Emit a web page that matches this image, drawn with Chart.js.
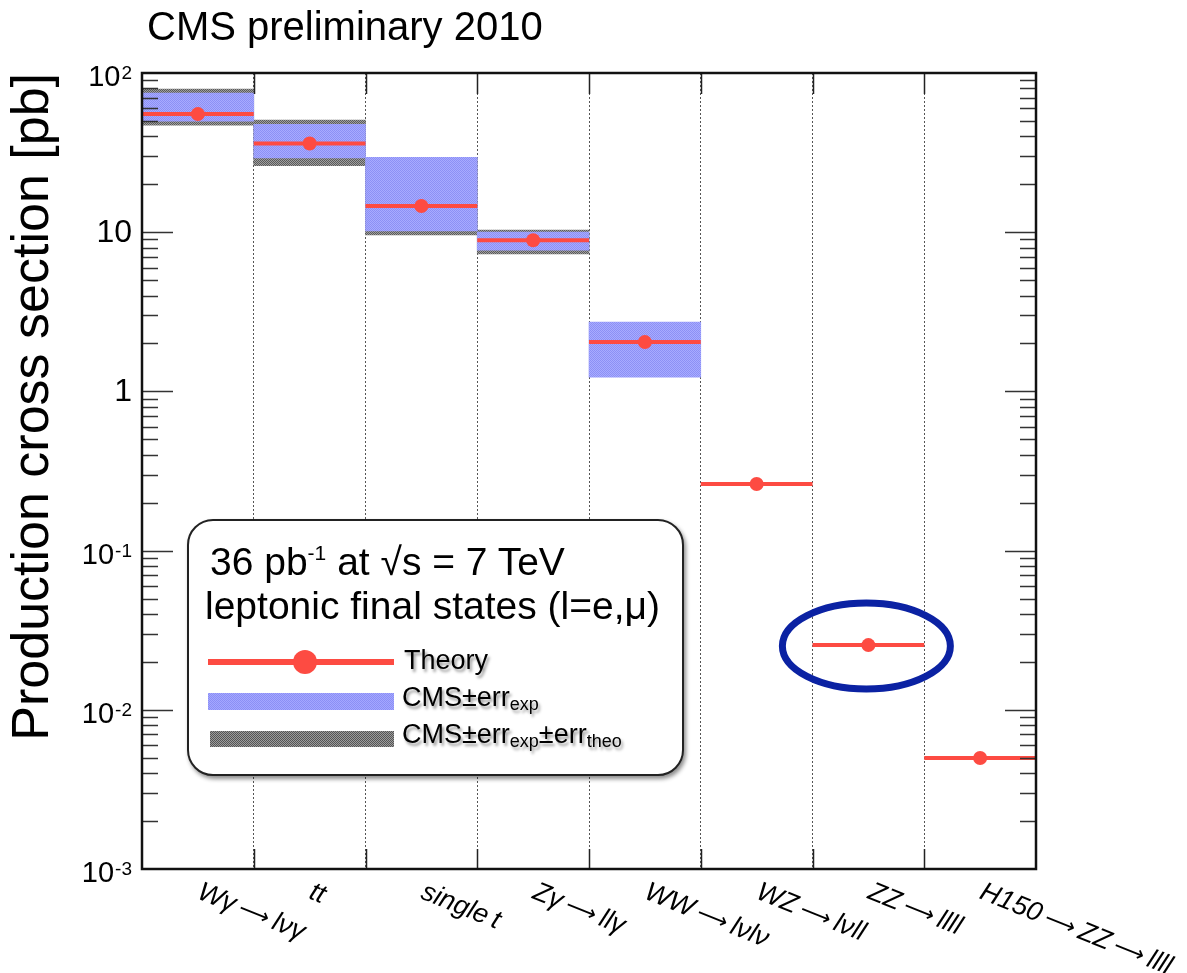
<!DOCTYPE html>
<html>
<head>
<meta charset="utf-8">
<script src="https://cdn.jsdelivr.net/npm/chart.js@4/dist/chart.umd.min.js"></script>
<style>
  body { margin: 0; background: #fff; font-family: 'Liberation Sans', Arial, Helvetica, sans-serif; }
  #wrap { position: relative; width: 1187px; height: 973px; overflow: hidden; }
  #cms { position: absolute; left: 147px; top: 4px; font-size: 40px; color: #000; white-space: nowrap; }
  #legend { position: absolute; left: 187px; top: 519px; width: 493px; height: 253px; border: 2px solid #222;
            border-radius: 26px; background: #fff; box-shadow: 2px 3px 4px rgba(0,0,0,0.45); }
  #legend .t { position: absolute; white-space: nowrap; color: #000; font-size: 39px; }
  #legend .e { position: absolute; white-space: nowrap; color: #000; font-size: 27px; text-shadow: 2px 3px 3px rgba(0,0,0,0.4); }
  #legend sub { font-size: 18px; vertical-align: -4px; }
  #legend sup { font-size: 21px; vertical-align: 15px; line-height: 0; }
  .sw { position: absolute; }
  .blue { background-color: #a4a7ff;
          background-image: conic-gradient(#8b8ff5 25%, transparent 0 50%, #8b8ff5 0 75%, transparent 0);
          background-size: 2px 2px; }
  .grey { background-color: #9c9c9c;
          background-image: conic-gradient(#555 25%, transparent 0 50%, #555 0 75%, transparent 0);
          background-size: 2px 2px; }
</style>
</head>
<body>
<div id="wrap">
  <canvas id="myChart" width="1187" height="973"></canvas>
  <div id="cms">CMS preliminary 2010</div>
  <div id="legend">
    <div class="t" style="left:21px; top:19px;">36 pb<sup>-1</sup> at √s = 7 TeV</div>
    <div class="t" style="left:16px; top:63px;">leptonic final states (l=e,μ)</div>
    <div class="sw" style="left:19px; top:138px; width:186px; height:6px; background:#fd4b42;"></div>
    <div class="sw" style="left:104px; top:129px; width:24px; height:24px; border-radius:12px; background:#fd4b42;"></div>
    <div class="e" style="left:215px; top:124px;">Theory</div>
    <div class="sw blue" style="left:19px; top:172px; width:186px; height:17px;"></div>
    <div class="e" style="left:213px; top:161px;">CMS±err<sub>exp</sub></div>
    <div class="sw grey" style="left:21px; top:210px; width:184px; height:16px;"></div>
    <div class="e" style="left:213px; top:198px;">CMS±err<sub>exp</sub>±err<sub>theo</sub></div>
  </div>
</div>
<script>
// ---------------------------------------------------------------
// DATA
const processes = ['Wγ → lνγ', 'tt', 'single t', 'Zγ → llγ', 'WW → lνlν', 'WZ → lνll', 'ZZ → llll', 'H150 → ZZ → llll'];
const theory   = [55.2, 36.1, 14.6, 8.9, 2.04, 0.262, 0.0255, 0.00498];
// CMS measurement band, experimental error only
const expLow   = [49.9, 29.3, 10.2, 7.7, 1.23, null, null, null];
const expHigh  = [74.8, 47.6, 29.5, 10.0, 2.73, null, null, null];
// CMS band, experimental + theory error
const totLow   = [47.1, 26.2, 9.6, 7.3, null, null, null, null];
const totHigh  = [79.3, 50.6, 29.5, 10.3, null, null, null, null];
const yTicks   = [0.001, 0.01, 0.1, 1, 10, 100];
const circled  = 6; // ZZ -> llll

const FONT = "'Liberation Sans', Arial, Helvetica, sans-serif";
const RED = '#fd4b42';

const ctx = document.getElementById('myChart').getContext('2d');

function checker(c1, c2) {
    const p = document.createElement('canvas');
    p.width = 2; p.height = 2;
    const g = p.getContext('2d');
    g.fillStyle = c1; g.fillRect(0, 0, 2, 2);
    g.fillStyle = c2; g.fillRect(0, 0, 1, 1); g.fillRect(1, 1, 1, 1);
    return ctx.createPattern(p, 'repeat');
}

function band(lo, hi) {
    return lo.map((v, i) => (v == null ? null : [v, hi[i]]));
}

function isDecade(v) {
    const l = Math.log10(v);
    return Math.abs(l - Math.round(l)) < 1e-6;
}

// frame, inward ticks, axis labels and the hand drawn ellipse
const decorations = {
    id: 'decorations',
    afterDraw(chart) {
        const { ctx, chartArea: a, scales: { x, y } } = chart;
        const half = (a.right - a.left) / processes.length / 2;
        ctx.save();

        // ticks at category borders, top and bottom
        ctx.strokeStyle = '#222';
        ctx.lineWidth = 1.5;
        for (let i = 1; i < processes.length; i++) {
            const px = Math.round(x.getPixelForValue(i) - half) + 0.5;
            ctx.beginPath();
            ctx.moveTo(px, a.top); ctx.lineTo(px, a.top + 21);
            ctx.moveTo(px, a.bottom); ctx.lineTo(px, a.bottom - 20);
            ctx.stroke();
        }

        // y ticks pointing inwards on both sides
        ctx.strokeStyle = '#333';
        for (const t of y.ticks) {
            if (t.value <= y.min || t.value >= y.max) continue;
            const py = Math.round(y.getPixelForValue(t.value)) + 0.5;
            const len = isDecade(t.value) ? 31 : 16;
            ctx.beginPath();
            ctx.moveTo(a.left, py); ctx.lineTo(a.left + len, py);
            ctx.moveTo(a.right, py); ctx.lineTo(a.right - len, py);
            ctx.stroke();
        }

        // frame
        ctx.strokeStyle = '#111';
        ctx.lineWidth = 2.5;
        ctx.strokeRect(a.left, a.top, a.right - a.left, a.bottom - a.top);

        // y labels: 1 and 10 plain, the rest as 10 with an exponent
        ctx.fillStyle = '#000';
        ctx.textAlign = 'right';
        const rx = a.left - 10;
        for (const v of yTicks) {
            const py = y.getPixelForValue(v);
            const e = Math.round(Math.log10(v));
            if (e === 0 || e === 1) {
                ctx.font = '32px ' + FONT;
                ctx.textBaseline = 'middle';
                ctx.fillText(String(v), rx, py + 1);
            } else {
                const ex = String(e);
                ctx.font = '19px ' + FONT;
                const w = ctx.measureText(ex).width;
                ctx.textBaseline = 'alphabetic';
                ctx.fillText(ex, rx, py + 6);
                ctx.font = '29px ' + FONT;
                ctx.textBaseline = 'middle';
                ctx.fillText('10', rx - w - 1, py + 5);
            }
        }

        // category labels, slanted down to the right; arrows from DejaVu
        ctx.fillStyle = '#000';
        ctx.textAlign = 'left';
        ctx.textBaseline = 'alphabetic';
        processes.forEach((name, i) => {
            ctx.save();
            ctx.translate(x.getPixelForValue(i) - 2, a.bottom + 29);
            ctx.rotate(22 * Math.PI / 180);
            let cx = 0;
            name.split(' ').forEach((part, k) => {
                if (k > 0) cx += 5;
                if (part === '→') {
                    ctx.font = '22px "DejaVu Sans"';
                    ctx.fillText('⟶', cx, -1);
                    cx += ctx.measureText('⟶').width;
                } else {
                    ctx.font = 'italic 27px ' + FONT;
                    ctx.fillText(part, cx, 0);
                    cx += ctx.measureText(part).width;
                }
            });
            ctx.restore();
        });

        // ellipse around ZZ
        const cx = x.getPixelForValue(circled) - 2;
        const cy = y.getPixelForValue(theory[circled]) + 1;
        ctx.strokeStyle = '#0b22a3';
        ctx.lineWidth = 7;
        ctx.beginPath();
        ctx.ellipse(cx, cy, 84, 43, 0, 0, Math.PI * 2);
        ctx.stroke();

        ctx.restore();
    }
};

const myChart = new Chart(ctx, {
    type: 'bar',
    data: {
        labels: processes,
        datasets: [
            {
                type: 'line',
                label: 'Theory',
                data: theory,
                showLine: false,
                pointStyle: 'circle',
                pointRadius: 7,
                pointHoverRadius: 7,
                pointBackgroundColor: RED,
                pointBorderWidth: 0,
                order: 0,
            },
            {
                type: 'line',
                label: 'Theory line',
                data: theory,
                showLine: false,
                pointStyle: 'line',
                pointRadius: (c) => (c.chart.chartArea ? (c.chart.chartArea.right - c.chart.chartArea.left) / processes.length / 2 : 56),
                pointHoverRadius: (c) => (c.chart.chartArea ? (c.chart.chartArea.right - c.chart.chartArea.left) / processes.length / 2 : 56),
                pointBorderColor: RED,
                pointBorderWidth: 4,
                order: 1,
            },
            {
                label: 'CMS±err_exp',
                data: band(expLow, expHigh),
                backgroundColor: checker('#a8abff', '#8c90f5'),
                borderWidth: 0,
                grouped: false,
                barPercentage: 1,
                categoryPercentage: 1,
                order: 2,
            },
            {
                label: 'CMS±err_exp±err_theo',
                data: band(totLow, totHigh),
                backgroundColor: checker('#a0a0a0', '#5a5a5a'),
                borderWidth: 0,
                grouped: false,
                barPercentage: 1,
                categoryPercentage: 1,
                order: 3,
            },
        ],
    },
    options: {
        responsive: false,
        animation: false,
        layout: { padding: { top: 73, right: 151, left: 0, bottom: 0 } },
        plugins: {
            legend: { display: false },
            tooltip: { enabled: false },
        },
        scales: {
            x: {
                offset: true,
                ticks: { display: false },
                grid: { display: true, offset: true, drawTicks: false, color: '#555', lineWidth: 1 },
                border: { display: false, dash: [2, 2] },
                afterFit: (scale) => { scale.height = 104; },
            },
            y: {
                type: 'logarithmic',
                min: 0.001,
                max: 100,
                grid: { display: false, drawTicks: false },
                border: { display: false },
                afterBuildTicks: (scale) => {
                    // 1..9 x 10^n, used for the inward tick marks
                    const t = [];
                    for (let e = -3; e <= 2; e++) {
                        for (let m = 1; m <= 9; m++) {
                            const v = m * Math.pow(10, e);
                            if (v <= 100 + 1e-9) t.push({ value: v });
                        }
                    }
                    scale.ticks = t;
                },
                ticks: { display: false, autoSkip: false },
                title: {
                    display: true,
                    text: 'Production cross section [pb]',
                    align: 'end',
                    color: '#000',
                    font: { family: FONT, size: 52 },
                    padding: { top: 2, bottom: 0 },
                },
                afterFit: (scale) => { scale.width = 142; },
            },
        },
    },
    plugins: [decorations],
});
</script>
</body>
</html>
